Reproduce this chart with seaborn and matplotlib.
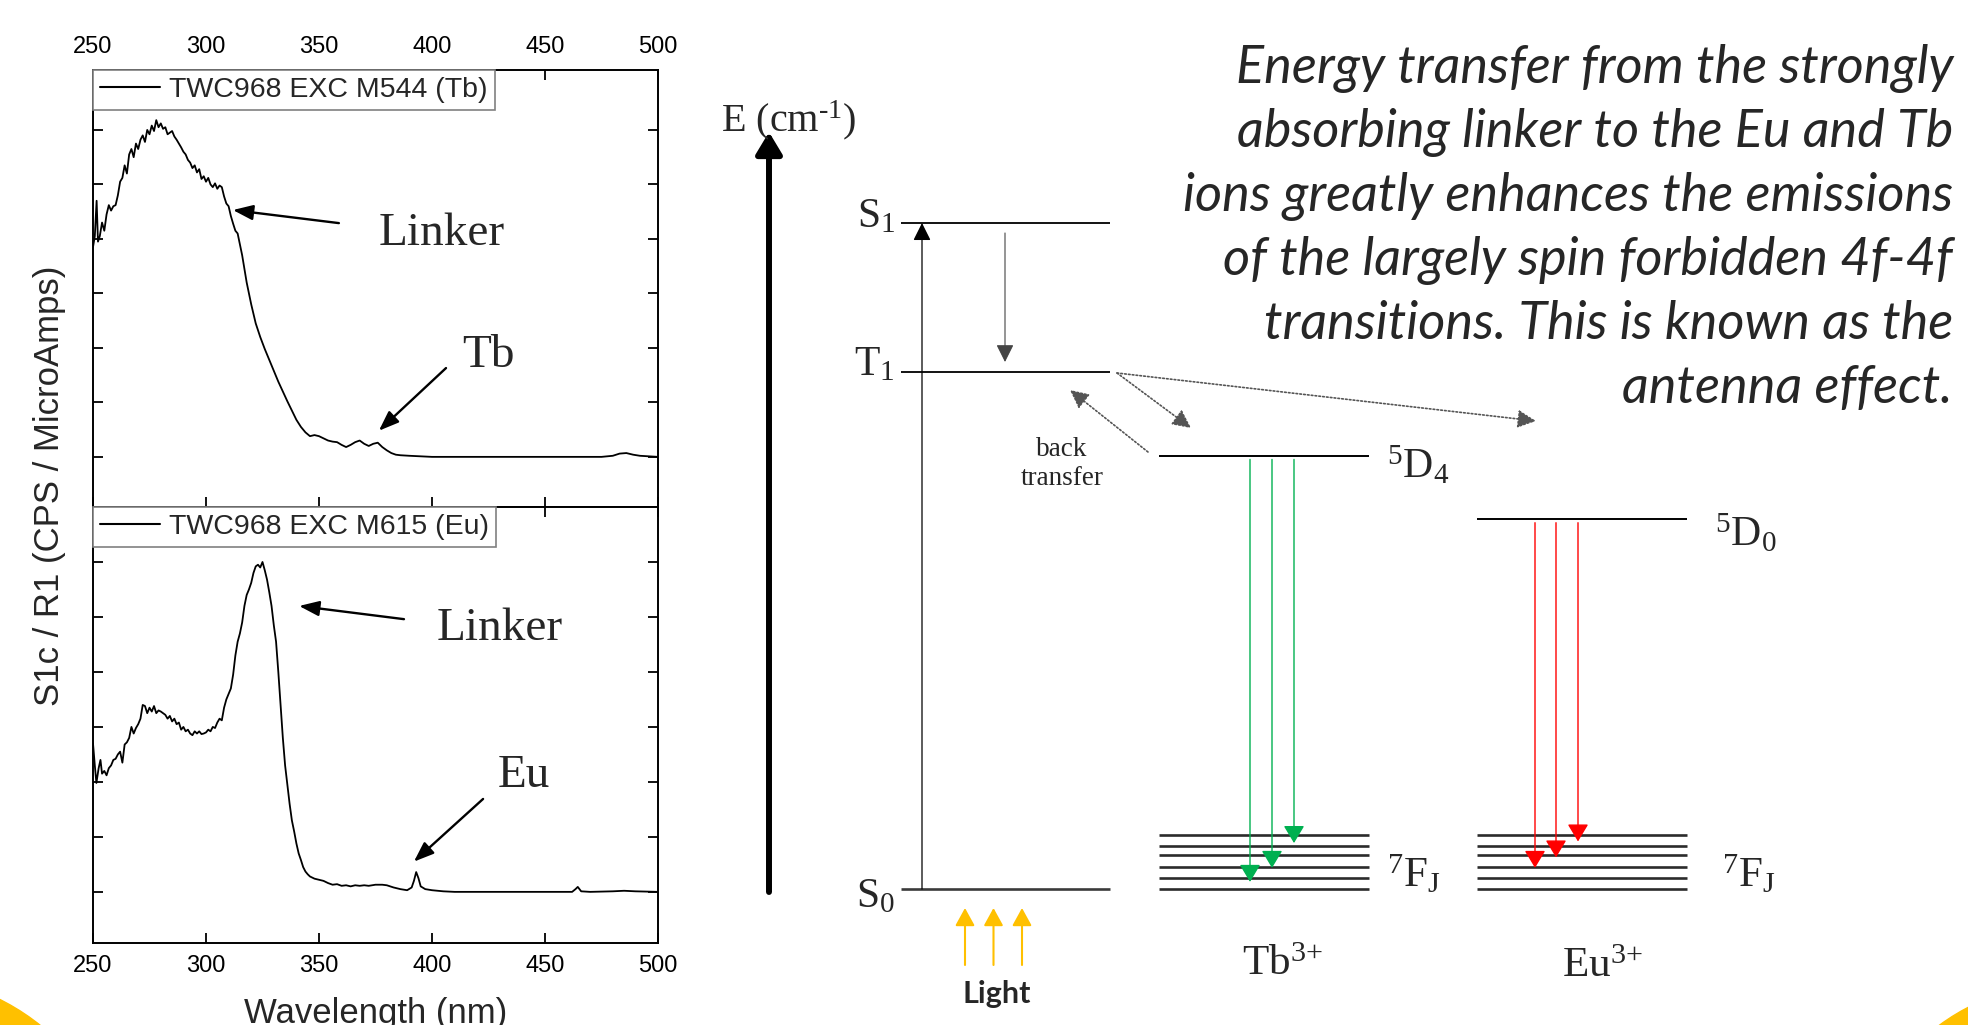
import matplotlib
matplotlib.use("Agg")
import numpy as np
import pandas as pd
import matplotlib.pyplot as plt
import seaborn as sns
from matplotlib.patches import FancyArrowPatch, Circle

# ---------------- data ----------------
wl_tb = [250, 250.8, 251.6, 252.2, 253, 254, 255, 256, 257, 258, 259, 260, 261, 262, 263,
         264, 265, 266, 267, 268, 269, 270, 271, 272, 273, 274, 275, 276, 277, 278, 279,
         280, 281, 282, 283, 284, 285, 286, 287, 288, 289, 290, 291, 292, 293, 294, 295,
         296, 297, 298, 299, 300, 301, 302, 303, 304, 305, 306, 307, 308, 309, 310, 311,
         312, 313, 314, 316, 318, 320, 322, 324, 326, 328, 330, 332, 334, 336, 338, 340,
         342, 344, 346, 348, 350, 352, 354, 356, 358, 360, 362, 364, 366, 368, 370, 372,
         374, 376, 378, 380, 382, 384, 386, 390, 395, 400, 420, 440, 460, 475, 480, 483,
         486, 489, 492, 496, 500]
int_tb = [3.85, 4.05, 4.70, 3.95, 4.05, 4.30, 4.15, 4.45, 4.62, 4.52, 4.60, 4.62, 4.80, 5.05, 5.12,
          5.35, 5.20, 5.55, 5.65, 5.50, 5.75, 5.65, 5.82, 5.90, 5.78, 6.00, 5.92, 6.08, 5.98, 6.18, 6.05,
          6.12, 6.02, 6.05, 5.92, 5.95, 5.98, 5.88, 5.82, 5.75, 5.68, 5.60, 5.55, 5.45, 5.40, 5.30, 5.35,
          5.22, 5.28, 5.10, 5.15, 5.05, 5.12, 5.00, 4.95, 5.02, 4.92, 4.98, 4.95, 4.78, 4.65, 4.60, 4.42,
          4.28, 4.15, 4.10, 3.70, 3.20, 2.80, 2.45, 2.20, 1.98, 1.78, 1.58, 1.38, 1.20, 1.02, 0.85, 0.68,
          0.55, 0.45, 0.38, 0.40, 0.38, 0.34, 0.30, 0.28, 0.27, 0.22, 0.18, 0.22, 0.27, 0.30, 0.24, 0.20,
          0.24, 0.26, 0.18, 0.12, 0.07, 0.04, 0.03, 0.02, 0.01, 0.00, 0.00, 0.00, 0.00, 0.00, 0.02, 0.06,
          0.07, 0.04, 0.02, 0.01, 0.00]

wl_eu = [250, 250.8, 251.5, 252.5, 253.3, 254, 255, 256, 257, 258, 259, 260, 261, 262, 263,
         264, 265, 266, 267, 268, 269, 270, 271, 272, 273, 274, 275, 276, 277, 278, 279,
         280, 281, 282, 283, 284, 285, 286, 287, 288, 289, 290, 291, 292, 293, 294, 295,
         296, 297, 298, 299, 300, 301, 302, 303, 304, 305, 306, 307, 308, 309, 310, 311,
         312, 313, 314, 315, 316, 317, 318, 319, 320, 321, 322, 323, 324, 325, 326, 327,
         328, 329, 330, 331, 332, 333, 334, 335, 336, 337, 338, 339, 340, 341, 342, 343,
         344, 345, 346, 348, 350, 352, 354, 356, 358, 360, 362, 364, 366, 368, 370, 372,
         375, 378, 380, 383, 386, 389, 391, 392, 393, 394, 395, 397, 400, 405, 410, 462,
         463.5, 464.5, 466, 470, 480, 485, 490, 500]
int_eu = [2.70, 2.30, 1.98, 2.25, 2.40, 2.15, 2.20, 2.12, 2.25, 2.30, 2.40, 2.42, 2.50, 2.55, 2.35,
          2.68, 2.72, 2.80, 3.00, 2.88, 2.98, 3.05, 3.15, 3.40, 3.38, 3.25, 3.35, 3.28, 3.38, 3.25, 3.30,
          3.28, 3.25, 3.22, 3.15, 3.20, 3.10, 3.15, 3.05, 3.08, 2.95, 3.00, 2.92, 2.95, 2.88, 2.85, 2.92,
          2.88, 2.92, 2.87, 2.88, 2.90, 2.95, 2.92, 3.00, 2.98, 3.08, 3.15, 3.12, 3.35, 3.50, 3.60, 3.70,
          3.95, 4.30, 4.55, 4.70, 4.90, 5.20, 5.40, 5.50, 5.62, 5.80, 5.92, 5.95, 5.90, 6.00, 5.85, 5.68,
          5.45, 5.20, 4.85, 4.55, 4.00, 3.40, 2.80, 2.30, 1.95, 1.60, 1.30, 1.10, 0.88, 0.70, 0.58, 0.45,
          0.37, 0.32, 0.28, 0.24, 0.22, 0.20, 0.16, 0.13, 0.14, 0.11, 0.12, 0.10, 0.12, 0.11, 0.12, 0.11,
          0.13, 0.13, 0.12, 0.08, 0.05, 0.03, 0.08, 0.20, 0.36, 0.25, 0.10, 0.05, 0.03, 0.01, 0.00, 0.00,
          0.05, 0.09, 0.01, 0.00, 0.01, 0.02, 0.01, 0.00]

x_ticks = [250, 300, 350, 400, 450, 500]
y_ticks = [0, 1, 2, 3, 4, 5, 6]
legend_tb = "TWC968 EXC M544 (Tb)"
legend_eu = "TWC968 EXC M615 (Eu)"
x_label = "Wavelength (nm)"
y_label = "S1c / R1 (CPS / MicroAmps)"

# energy-level diagram (schematic energies, cm-1)
linker_labels = [r"S$_0$", r"T$_1$", r"S$_1$"]
linker_energy = [0, 23300, 30000]
tb_excited_label = r"$^5$D$_4$"
tb_excited_energy = 19500
eu_excited_label = r"$^5$D$_0$"
eu_excited_energy = 16650
fj_label = r"$^7$F$_J$"
fj_energy = [0, 500, 1000, 1520, 1950, 2420]
tb_emission_to = [320, 950, 2070]
eu_emission_to = [950, 1420, 2140]
ion_labels = [r"Tb$^{3{+}}$", r"Eu$^{3{+}}$"]
axis_title = r"E (cm$^{\text{-}1}$)"

description = ["Energy transfer from the strongly",
               "absorbing linker to the Eu and Tb",
               "ions greatly enhances the emissions",
               "of the largely spin forbidden 4f-4f",
               "transitions. This is known as the",
               "antenna effect."]

# ---------------- style ----------------
sns.set_theme(style="ticks")
plt.rcParams["font.family"] = ["Liberation Sans", "DejaVu Sans"]
plt.rcParams["mathtext.fontset"] = "custom"
plt.rcParams["mathtext.rm"] = "Liberation Serif"
plt.rcParams["mathtext.it"] = "Liberation Serif:italic"
plt.rcParams["mathtext.default"] = "regular"

W, H = 1968, 1025
fig = plt.figure(figsize=(W / 100, H / 100), dpi=100)
fig.patch.set_facecolor("white")

def fx(px):
    return px / W

def fy(py):
    return 1 - py / H

SERIF = "Liberation Serif"

# ---------------- spectra ----------------
ax_top = fig.add_axes([fx(93), fy(507), (658 - 93) / W, (507 - 70) / H])
ax_bot = fig.add_axes([fx(93), fy(943), (658 - 93) / W, (943 - 507) / H])

df_tb = pd.DataFrame({"wl": wl_tb, "I": int_tb})
df_eu = pd.DataFrame({"wl": wl_eu, "I": int_eu})
sns.lineplot(data=df_tb, x="wl", y="I", ax=ax_top, color="black", lw=1.3, label=legend_tb)
sns.lineplot(data=df_eu, x="wl", y="I", ax=ax_bot, color="black", lw=1.3, label=legend_eu)

for ax, ylim in ((ax_top, (-0.92, 7.1)), (ax_bot, (-0.93, 7.0))):
    ax.set_xlim(250, 500)
    ax.set_ylim(*ylim)
    ax.set_xticks(x_ticks)
    ax.set_yticks(y_ticks)
    ax.set_yticklabels([])
    ax.set_xlabel("")
    ax.set_ylabel("")
    ax.set_facecolor("white")
    for s in ax.spines.values():
        s.set_visible(True)
        s.set_linewidth(1.4)
        s.set_color("black")
    ax.tick_params(direction="in", length=7, width=1.3, top=True, right=True,
                   left=True, bottom=True, labelsize=17, pad=9, colors="black")
    leg = ax.legend(loc="upper left", fontsize=20.5, frameon=True, fancybox=False,
                    edgecolor="#808080", framealpha=1, borderaxespad=0, borderpad=0.25,
                    handlelength=2.1, handletextpad=0.33)
    leg.get_frame().set_linewidth(1.2)
    for ln in leg.get_lines():
        ln.set_linewidth(1.5)

ax_top.tick_params(labeltop=True, labelbottom=False)
ax_bot.tick_params(labeltop=False, labelbottom=True)

fig.text(fx(50), fy(486), y_label, rotation=90, ha="center", va="center", fontsize=25)
fig.text(fx(376), fy(1023), x_label, ha="center", va="baseline", fontsize=25)

arrow_kw = dict(arrowstyle="-|>,head_length=0.45,head_width=0.17", mutation_scale=27,
                lw=1.7, color="black", shrinkA=0, shrinkB=0)
ax_top.annotate("", xy=(311.9, 4.53), xytext=(358.8, 4.29), arrowprops=arrow_kw)
ax_top.annotate("", xy=(376.5, 0.48), xytext=(406.2, 1.63), arrowprops=arrow_kw)
ax_bot.annotate("", xy=(341.2, 5.2), xytext=(387.6, 4.96), arrowprops=arrow_kw)
ax_bot.annotate("", xy=(392.0, 0.55), xytext=(422.6, 1.69), arrowprops=arrow_kw)
ax_top.text(376.2, 3.89, "Linker", family=SERIF, fontsize=34, ha="left", va="baseline")
ax_top.text(413.3, 1.65, "Tb", family=SERIF, fontsize=34, ha="left", va="baseline")
ax_bot.text(402.0, 4.58, "Linker", family=SERIF, fontsize=34, ha="left", va="baseline")
ax_bot.text(429.1, 1.91, "Eu", family=SERIF, fontsize=34, ha="left", va="baseline")

# ---------------- energy diagram ----------------
PX_PER_CM = 0.0222
S0_PX = 889

def e_at(py):
    return (S0_PX - py) / PX_PER_CM

ax_d = fig.add_axes([fx(700), 0, (W - 700) / W, 1])
ax_d.set_xlim(700, W)
ax_d.set_ylim(e_at(H), e_at(0))
ax_d.axis("off")
ax_d.patch.set_alpha(0)

def arrow(p0, p1, color, lw, ms, hl=0.4, hw=0.2, ls="-", z=3):
    a = FancyArrowPatch(p0, p1, arrowstyle=f"-|>,head_length={hl},head_width={hw}",
                        mutation_scale=ms, color=color, lw=lw, linestyle=ls,
                        shrinkA=0, shrinkB=0, zorder=z)
    ax_d.add_patch(a)

linker_x = (901, 1110)
tb_x = (1159, 1369)
eu_x = (1477, 1687)

# big energy axis arrow
arrow((769, e_at(892)), (769, e_at(132)), "black", 4.3, 33, hl=0.4, hw=0.24)
ax_d.text(721, e_at(131), axis_title, family=SERIF, fontsize=29, ha="left", va="baseline")

# linker levels
for lab, en in zip(linker_labels, linker_energy):
    lw = 1.9 if en == 0 else 1.3
    col = "#3a3a3a" if en == 0 else "black"
    ax_d.hlines(en, *linker_x, color=col, lw=lw)
    ax_d.text(895, en - (4 + (14 if en == 0 else 0)) / PX_PER_CM, lab, family=SERIF, fontsize=30,
              ha="right", va="baseline")

# excitation S0 -> S1
arrow((922, linker_energy[0]), (922, linker_energy[2]), "black", 0.9, 27)
# S1 -> T1 (ISC)
arrow((1005, e_at(233)), (1005, e_at(362)), "#444444", 0.8, 27)

# Tb / Eu levels
ax_d.hlines(tb_excited_energy, *tb_x, color="black", lw=1.4)
for en in fj_energy:
    ax_d.hlines(en, *tb_x, color="#2b2b2b", lw=1.9)
    ax_d.hlines(en, *eu_x, color="#2b2b2b", lw=1.9)
ax_d.hlines(eu_excited_energy, *eu_x, color="black", lw=1.4)

ax_d.text(1387, e_at(478), tb_excited_label, family=SERIF, fontsize=30, ha="left", va="baseline")
ax_d.text(1715, e_at(546), eu_excited_label, family=SERIF, fontsize=30, ha="left", va="baseline")
ax_d.text(1387, e_at(887), fj_label, family=SERIF, fontsize=31, ha="left", va="baseline")
ax_d.text(1722, e_at(887), fj_label, family=SERIF, fontsize=31, ha="left", va="baseline")
ax_d.text(1242, e_at(975), ion_labels[0], family=SERIF, fontsize=31, ha="left", va="baseline")
ax_d.text(1562, e_at(977), ion_labels[1], family=SERIF, fontsize=31, ha="left", va="baseline")

# emission arrows
for xx, tgt in zip((1250, 1272, 1294), tb_emission_to):
    arrow((xx, tb_excited_energy - 150), (xx, tgt), "#00B050", 1.0, 27, hl=0.4, hw=0.24)
for xx, tgt in zip((1535, 1556, 1578), eu_emission_to):
    arrow((xx, eu_excited_energy - 150), (xx, tgt), "#FF0000", 1.0, 27, hl=0.4, hw=0.24)

# energy transfer (dotted)
dot = (0, (1, 1.3))
arrow((1117, e_at(373)), (1191, e_at(428)), "#555555", 1.2, 25, hl=0.45, hw=0.22, ls=dot)
arrow((1117, e_at(373)), (1536, e_at(421)), "#555555", 1.2, 25, hl=0.45, hw=0.22, ls=dot)
arrow((1148, e_at(452)), (1070, e_at(390)), "#555555", 1.2, 25, hl=0.45, hw=0.22, ls=dot)
ax_d.text(1062, e_at(464), "back\ntransfer", family=SERIF, fontsize=19.5, ha="center",
          va="center", linespacing=1.25)

# light
for xx in (965, 993.5, 1022):
    arrow((xx, e_at(965)), (xx, e_at(908)), "#FFC000", 1.5, 27, hl=0.4, hw=0.22)
ax_d.text(997, e_at(994), "Light", family=["Lato", "DejaVu Sans"], fontweight="bold",
          fontsize=22, ha="center", va="center")

# ---------------- description text ----------------
fig.canvas.draw()
renderer = fig.canvas.get_renderer()
desc_font = ["Lato", "Open Sans", "DejaVu Sans"]
texts = []
for i, line in enumerate(description):
    t = fig.text(fx(1953), fy(83 + 64 * i), line, ha="right", va="baseline",
                 fontsize=30, style="italic", family=desc_font)
    texts.append(t)
widest = max(t.get_window_extent(renderer).width for t in texts)
new_size = 30 * 768 / widest
for t in texts:
    t.set_fontsize(new_size)

# ---------------- decorative corners ----------------
fig.add_artist(Circle((-1.0, -1.75), 2.24, transform=fig.dpi_scale_trans,
                      color="#FFC000", zorder=0))
fig.add_artist(Circle((20.68, -1.75), 2.17, transform=fig.dpi_scale_trans,
                      color="#FFC000", zorder=0))

fig.savefig("out.png", dpi=100)
